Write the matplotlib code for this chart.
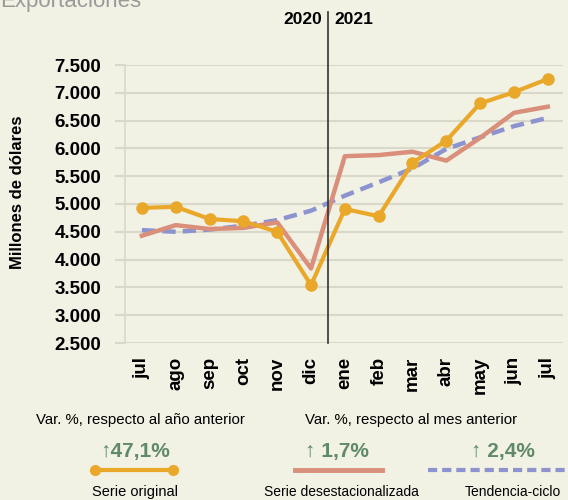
import numpy as np
import matplotlib.pyplot as plt

# data
meses = ['jul', 'ago', 'sep', 'oct', 'nov', 'dic', 'ene', 'feb', 'mar', 'abr', 'may', 'jun', 'jul']
serie_original = [4930, 4950, 4730, 4690, 4500, 3540, 4910, 4780, 5740, 6140, 6810, 7010, 7250]
serie_desest = [4430, 4620, 4550, 4570, 4670, 3840, 5860, 5880, 5940, 5780, 6190, 6640, 6750]
tendencia = [4530, 4500, 4540, 4610, 4710, 4880, 5150, 5390, 5640, 5990, 6200, 6400, 6550]
yticks = [2500, 3000, 3500, 4000, 4500, 5000, 5500, 6000, 6500, 7000, 7500]
var_labels = ['\u219147,1%', '\u2191 1,7%', '\u2191 2,4%']

bg = '#f1f1e4'
c_orig = '#eaa82a'
c_des = '#d98f7a'
c_ten = '#8c93cf'
c_green = '#5f8a69'
c_grid = '#d9d8c9'
bold_font = ['Liberation Sans', 'DejaVu Sans']

plt.rcParams['font.family'] = ['Liberation Sans', 'DejaVu Sans']

fig = plt.figure(figsize=(5.68, 5.0), dpi=100, facecolor=bg)
ax = fig.add_axes([125/568, 1-343/500, (563-125)/568, (343-65)/500])
ax.set_facecolor(bg)

x = np.arange(len(meses))
ax.plot(x, tendencia, color=c_ten, lw=3.2, ls=(0, (3, 1.6)), zorder=3)
ax.plot(x, serie_desest, color=c_des, lw=3.2, zorder=4)
ax.plot(x, serie_original, color=c_orig, lw=3, marker='o', ms=8, zorder=5)

ax.set_xlim(-0.5, 12.45)
ax.set_ylim(2500, 7500)
ax.set_yticks(yticks)
ax.set_yticklabels([f'{v:,}'.replace(',', '.') for v in yticks],
                   fontsize=13.5, fontweight='bold', family=bold_font)
ax.set_xticks(x)
ax.set_xticklabels(meses, rotation=90, fontsize=13.5, fontweight='bold', family=bold_font)
ax.yaxis.grid(True, color=c_grid, lw=1.5)
ax.set_axisbelow(True)
ax.tick_params(axis='y', length=7, color=c_grid, width=1.5, pad=10)
ax.tick_params(axis='x', length=0, pad=10)
for s in ['top', 'right', 'bottom']:
    ax.spines[s].set_visible(False)
ax.spines['left'].set_color(c_grid)
ax.spines['left'].set_linewidth(1.2)

# year divider
ax.plot([5.5, 5.5], [2500, 7500 + (65-12)/55.5*1000], color='#333333', lw=1.2,
        clip_on=False, zorder=6)
fig.text(303/568, 1-20/500, '2020', ha='center', va='center', fontsize=12.5,
         fontweight='bold', family=bold_font)
fig.text(354/568, 1-20/500, '2021', ha='center', va='center', fontsize=12.5,
         fontweight='bold', family=bold_font)

fig.text(18/568, 1-192/500, 'Millones de dólares', rotation=90, ha='center', va='center',
         fontsize=12, fontweight='bold', family=bold_font)
fig.text(0, 1-2/500, 'Exportaciones', ha='left', va='center', fontsize=16, color='#9a9a9a')

# bottom legend
fig.text(140/568, 1-420/500, 'Var. %, respecto al año anterior', ha='center', va='center', fontsize=10.8)
fig.text(411/568, 1-420/500, 'Var. %, respecto al mes anterior', ha='center', va='center', fontsize=10.8)

centers = [135, 337, 503]
for cx, lab in zip(centers, var_labels):
    fig.text(cx/568, 1-452/500, lab, ha='center', va='center', fontsize=15,
             fontweight='bold', color=c_green, family=bold_font)

lax = fig.add_axes([0, 0, 1, 1], facecolor='none')
lax.set_xlim(0, 568)
lax.set_ylim(500, 0)
lax.axis('off')
lax.plot([95, 173], [470, 470], color=c_orig, lw=3, marker='o', ms=7)
lax.plot([295, 382], [470, 470], color=c_des, lw=3.5)
lax.plot([428, 568], [470, 470], color=c_ten, lw=3, ls=(0, (2.2, 1.2)), clip_on=False)

fig.text(135/568, 1-492/500, 'Serie original', ha='center', va='center', fontsize=10.5)
fig.text(341/568, 1-492/500, 'Serie desestacionalizada', ha='center', va='center', fontsize=10)
fig.text(513/568, 1-492/500, 'Tendencia-ciclo', ha='center', va='center', fontsize=10)

fig.savefig('out.png', dpi=100, facecolor=bg)
